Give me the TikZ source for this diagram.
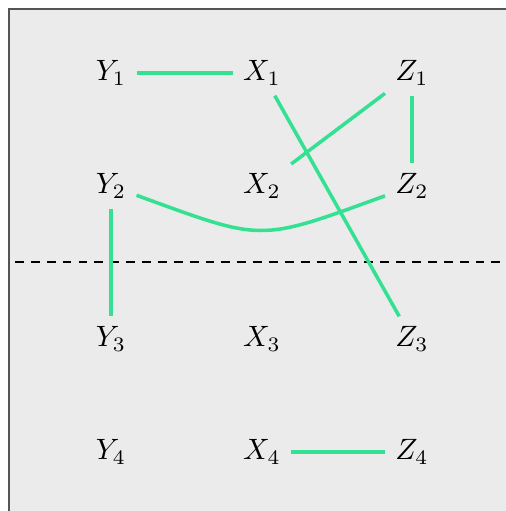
\documentclass[tikz,border=0pt]{standalone}
\definecolor{linkgreen}{RGB}{52,224,146}
\definecolor{bggray}{RGB}{235,235,235}
\definecolor{framegray}{RGB}{85,85,85}
\tikzset{
  lbl/.style={},
  link/.style={draw=linkgreen, line width=1.2pt},
}
\begin{document}
\begin{tikzpicture}[x=0.34pt,y=-0.34pt]
\useasboundingbox (0,0) rectangle (505,511);
\fill[bggray] (9,9) rectangle (520,525);
\draw[framegray, line width=0.5pt] (9,525) -- (9,9) -- (520,9);
\node[lbl] (Y1) at (111,73) {$Y_1$};
\node[lbl] (X1) at (262,73) {$X_1$};
\node[lbl] (Z1) at (412,73) {$Z_1$};
\node[lbl] (Y2) at (111,186) {$Y_2$};
\node[lbl] (X2) at (262,186) {$X_2$};
\node[lbl] (Z2) at (412,186) {$Z_2$};
\node[lbl] (Y3) at (111,339) {$Y_3$};
\node[lbl] (X3) at (262,339) {$X_3$};
\node[lbl] (Z3) at (412,339) {$Z_3$};
\node[lbl] (Y4) at (111,452) {$Y_4$};
\node[lbl] (X4) at (262,452) {$X_4$};
\node[lbl] (Z4) at (412,452) {$Z_4$};
\coordinate (dl) at (15,262);
\coordinate (dr) at (505,262);
\draw[line width=0.35pt, dash pattern=on 3pt off 2.4pt] (dl) -- (dr);
\draw[link] (Y1) -- (X1);
\draw[link] (X1) -- (Z3);
\draw[link] (X2) -- (Z1);
\draw[link] (Z1) -- (Z2);
\draw[link] (Y2) -- (Y3);
\draw[link] (X4) -- (Z4);
\draw[link] (Y2) to[out=-20, in=200, looseness=1.4] (Z2);
\end{tikzpicture}
\end{document}
